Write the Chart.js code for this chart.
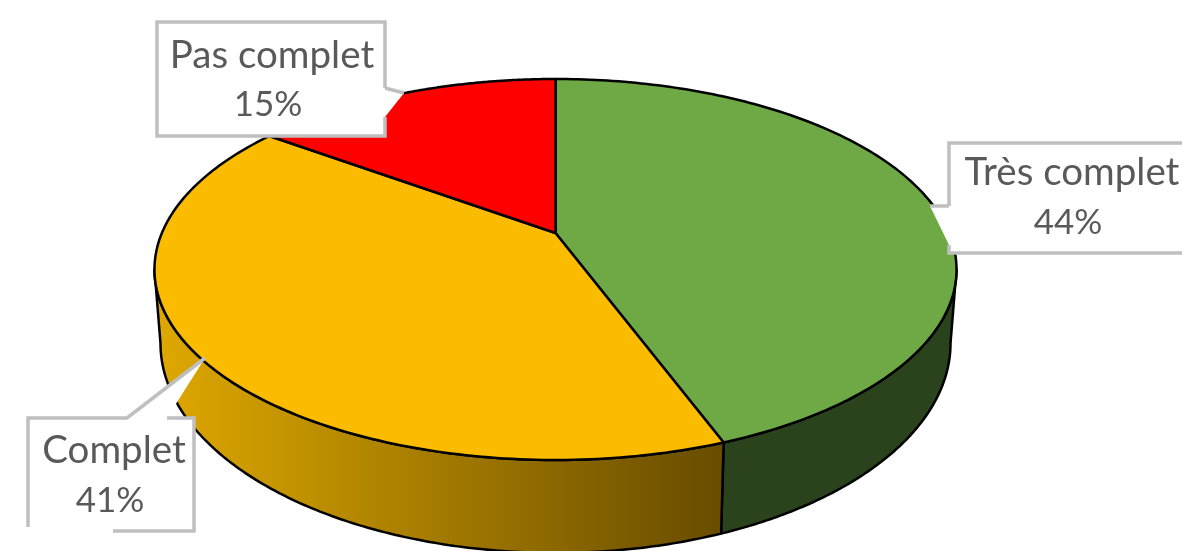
<!DOCTYPE html>
<html>
<head>
<meta charset="utf-8">
<title>Pie</title>
<style>
  html, body { margin: 0; padding: 0; background: #fff; }
  #wrap { width: 1182px; height: 551px; overflow: hidden; }
  #chart { filter: blur(0.5px); }
</style>
<script src="https://cdn.jsdelivr.net/npm/chart.js@4"></script>
</head>
<body>
<div id="wrap"><canvas id="chart" width="1182" height="551"></canvas></div>
<script>
  // data
  const categories = ['Très complet', 'Complet', 'Pas complet'];
  const shares = [44.3, 40.7, 15];
  const shareLabels = ['44%', '41%', '15%'];
  const sliceColors = ['#6fa946', '#fbbc00', '#ff0000'];
  const wallColors = ['#2b431d', null, '#7f0000'];

  // the 3D look: both rims are the same circle seen in perspective
  const TILT = 0.1916;
  const TOP_RIM = { cx: 555.5, cy: 233, rx: 393.6, ry: 183.5 };
  const BOTTOM_RIM = { cx: 555.5, cy: 303, rx: 387.7, ry: 202 };
  const EDGE = '#000';
  const BOX_LINE = '#bfbfbf';
  const TEXT = '#595959';

  // only this part of the rim faces the viewer
  const FRONT_FROM = Math.acos(-TILT) - Math.PI / 2;
  const FRONT_TO = 2 * Math.PI - Math.acos(-TILT) - Math.PI / 2;

  function rimPoint(rim, angle) {
    const a = angle + Math.PI / 2;
    const u = Math.sin(a);
    const v = -Math.cos(a);
    const w = 1 - TILT * v;
    return [rim.cx + rim.rx * u / w, rim.cy + rim.ry * v / w];
  }

  function traceRim(ctx, rim, from, to) {
    const steps = 160;
    for (let i = 0; i <= steps; i++) {
      const p = rimPoint(rim, from + (to - from) * i / steps);
      ctx.lineTo(p[0], p[1]);
    }
  }

  function wallFill(ctx, index) {
    if (wallColors[index]) return wallColors[index];
    const g = ctx.createLinearGradient(165, 0, 722, 0);
    g.addColorStop(0, '#dda700');
    g.addColorStop(1, '#684c00');
    return g;
  }

  function drawWalls(ctx, arcs) {
    arcs.forEach((arc, i) => {
      const from = Math.max(arc.startAngle, FRONT_FROM);
      const to = Math.min(arc.endAngle, FRONT_TO);
      if (to <= from) return;
      ctx.beginPath();
      traceRim(ctx, TOP_RIM, from, to);
      traceRim(ctx, BOTTOM_RIM, to, from);
      ctx.closePath();
      ctx.fillStyle = wallFill(ctx, i);
      ctx.fill();
      ctx.stroke();
    });
  }

  function drawTop(ctx, arcs) {
    arcs.forEach((arc, i) => {
      ctx.beginPath();
      ctx.moveTo(TOP_RIM.cx, TOP_RIM.cy);
      traceRim(ctx, TOP_RIM, arc.startAngle, arc.endAngle);
      ctx.closePath();
      ctx.fillStyle = sliceColors[i];
      ctx.fill();
      ctx.stroke();
    });
  }

  function drawBox(ctx, box) {
    ctx.beginPath();
    box.shape.forEach((p) => ctx.lineTo(p[0], p[1]));
    ctx.closePath();
    ctx.fillStyle = '#fff';
    ctx.fill();

    ctx.strokeStyle = BOX_LINE;
    ctx.lineWidth = 3.5;
    ctx.lineJoin = 'miter';
    box.lines.forEach((line) => {
      ctx.beginPath();
      line.forEach((p) => ctx.lineTo(p[0], p[1]));
      ctx.stroke();
    });

    ctx.fillStyle = TEXT;
    ctx.textAlign = 'center';
    ctx.textBaseline = 'middle';
    ctx.font = '38.5px Lato, "Open Sans", sans-serif';
    ctx.fillText(categories[box.index], box.nameX, box.nameY);
    ctx.font = '35px Lato, "Open Sans", sans-serif';
    ctx.fillText(shareLabels[box.index], box.pctX, box.pctY);
  }

  const boxes = [
    {
      index: 2, nameX: 272, nameY: 56, pctX: 268, pctY: 105,
      shape: [[157, 22], [385, 22], [385, 88], [404, 93], [385, 117], [385, 136], [157, 136]],
      lines: [[[385, 88], [385, 22], [157, 22], [157, 136], [385, 136], [385, 117]], [[385, 88], [404, 93]]],
    },
    {
      index: 0, nameX: 1072, nameY: 173, pctX: 1068, pctY: 223,
      shape: [[949, 143], [1190, 143], [1190, 253], [949, 253], [949, 245], [930, 206], [949, 206]],
      lines: [[[1190, 143], [949, 143], [949, 206]], [[949, 245], [949, 253], [1190, 253]], [[949, 206], [930, 206]]],
    },
    {
      index: 1, nameX: 114, nameY: 451, pctX: 110, pctY: 501,
      shape: [[28, 418], [127, 418], [205, 358], [167, 418], [194, 418], [194, 531], [28, 531]],
      lines: [[[28, 527], [28, 418], [127, 418], [205, 358]], [[167, 418], [194, 418], [194, 531], [113, 531]]],
    },
  ];

  const pie3d = {
    id: 'pie3d',
    // the library only lays the slices out, the perspective faces are painted here
    beforeDatasetDraw() {
      return false;
    },
    afterDatasetsDraw(chart) {
      const ctx = chart.ctx;
      const arcs = chart.getDatasetMeta(0).data;
      ctx.save();
      ctx.strokeStyle = EDGE;
      ctx.lineWidth = 2.5;
      ctx.lineJoin = 'round';
      drawWalls(ctx, arcs);
      drawTop(ctx, arcs);
      boxes.forEach((box) => drawBox(ctx, box));
      ctx.restore();
    },
  };

  new Chart(document.getElementById('chart'), {
    type: 'pie',
    data: {
      labels: categories,
      datasets: [{ data: shares, backgroundColor: sliceColors }],
    },
    options: {
      responsive: false,
      animation: false,
      devicePixelRatio: 1,
      plugins: { legend: { display: false }, tooltip: { enabled: false } },
    },
    plugins: [pie3d],
  });
</script>
</body>
</html>
